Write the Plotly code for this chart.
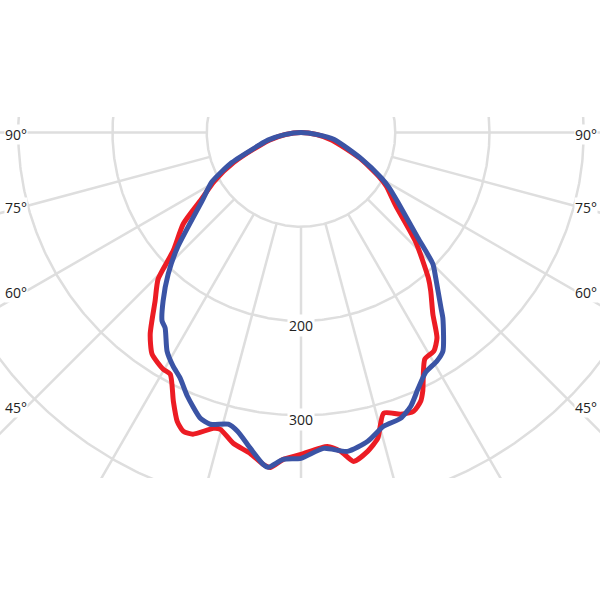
import numpy as np
import plotly.graph_objects as go

# ---- data (angle from nadir in degrees, intensity in cd) ----
red_angles = [-90, -82.6, -76.6, -73.2, -66, -60.8, -55.9, -52.2, -47.2, -44.3, -40.9, -36.8, -33.9,
              -30.2, -28.4, -25.4, -23.2, -21.5, -19.7, -16.5, -15.2, -12.3, -9.0, -6.5,
              -5.2, -3.1, 0, 4.8, 7.1, 9.1, 11.8, 14.1, 16.4, 19.5, 22.0, 24.0, 25.2,
              28.65, 31.3, 33.5, 36.0, 39.3, 41.2, 46.3, 52.3, 57.8, 60.5, 66.4, 76.2, 82.6, 90]
red_cd = [0, 16.6, 34, 44, 78, 105, 129, 158, 184.8, 217, 236.4, 267.1, 283.3,
          290.6, 291.6, 315.7, 333.4, 340.8, 340.0, 327.4, 326.4, 337.5, 344.7, 354.4,
          356.8, 347.3, 341.5, 334.2, 340.9, 353.4, 345.6, 334.5, 310.5, 317.1, 319.0, 312.2, 303.4,
          274.0, 271.4, 261.4, 238.0, 217.3, 205.1, 168.5, 127, 107, 95, 68, 34, 16.6, 0]

blue_angles = [-90, -82.6, -77, -73, -66.5, -61, -55.4, -47.0, -43.2, -39.3, -36.4, -34.8, -31.5,
               -28.7, -26.2, -23.3, -19.4, -17.3, -14.0, -12.0, -9.1, -6.5, -5.6, -3.1,
               0, 4.1, 8.3, 12.2, 15.7, 19.2, 21.85, 24.5, 27.5, 30.7, 33.0, 37.4, 38.6,
               42.8, 45.1, 48.0, 53.9, 58, 60.5, 66.4, 78, 82.6, 90]
blue_cd = [0, 17.5, 36, 47, 80, 108, 127.3, 179.5, 205.8, 231, 248.4, 252.6, 272,
           282.6, 290.4, 304.7, 321.5, 324.2, 319.0, 324.1, 339.4, 354.4, 357, 347.3,
           345.7, 336, 341.9, 335.2, 323.8, 321.2, 312.9, 299.2, 286.7, 282.2, 276.5, 247.8, 238.1,
           210.4, 197.5, 166.8, 128.3, 110, 98, 70, 36, 17.5, 0]

ring_values = [100, 200, 300, 400]
ring_labels = ["200", "300"]
ring_label_values = [200, 300]
spoke_angles = [-90, -75, -60, -45, -30, -15, 0, 15, 30, 45, 60, 75, 90]
angle_labels = ["90°", "75°", "60°", "45°"]
angle_label_values = [90, 75, 60, 45]

# ---- geometry / style ----
PX = 0.9425          # pixels per cd unit
CX, CY = 301, 132.5  # centre in page pixels
TOP, BOTTOM = 117, 478
GRID = "#dedede"
RED = "#ec1c24"
BLUE = "#3b54a5"


def to_xy(ang, r):
    a = np.radians(np.asarray(ang, dtype=float))
    r = np.asarray(r, dtype=float)
    return r * np.sin(a), -r * np.cos(a)


fig = go.Figure()

# rings
t = np.linspace(0, 2 * np.pi, 721)
for rv in ring_values:
    fig.add_trace(go.Scatter(x=rv * np.cos(t), y=rv * np.sin(t), mode="lines",
                             line=dict(color=GRID, width=2.5), hoverinfo="skip",
                             showlegend=False))
# spokes
for a in spoke_angles:
    x, y = to_xy([a, a], [ring_values[0], 700])
    fig.add_trace(go.Scatter(x=x, y=y, mode="lines", line=dict(color=GRID, width=2.5),
                             hoverinfo="skip", showlegend=False))

# curves
for ang, cd, col, name in [(red_angles, red_cd, RED, "C0-C180"),
                           (blue_angles, blue_cd, BLUE, "C90-C270")]:
    x, y = to_xy(ang, cd)
    fig.add_trace(go.Scatter(x=x, y=y, mode="lines", name=name,
                             line=dict(color=col, width=5, shape="spline", smoothing=0.6),
                             showlegend=False))

font = dict(family="Open Sans", size=14, color="#222222")
ann = []
edge = (CX - 28) / PX
for lab, a in zip(angle_labels, angle_label_values):
    ar = np.radians(a)
    yy = -edge * np.cos(ar) / np.sin(ar)
    ann.append(dict(x=-edge, y=yy, text=lab, showarrow=False, xanchor="right",
                    yanchor="middle", yshift=-2, font=font, bgcolor="white", borderpad=0))
    ann.append(dict(x=edge, y=yy, text=lab, showarrow=False, xanchor="left",
                    yanchor="middle", yshift=-2, font=font, bgcolor="white", borderpad=0))
for lab, v in zip(ring_labels, ring_label_values):
    ann.append(dict(x=0, y=-v, text=lab, showarrow=False, xanchor="center",
                    yanchor="middle", yshift=-4, font=font, bgcolor="white", borderpad=1))

fig.update_layout(
    width=600, height=600,
    margin=dict(l=0, r=0, t=TOP, b=600 - BOTTOM),
    paper_bgcolor="white", plot_bgcolor="white",
    xaxis=dict(range=[-CX / PX, (600 - CX) / PX], visible=False, fixedrange=True),
    yaxis=dict(range=[-(BOTTOM - CY) / PX, (CY - TOP) / PX], visible=False, fixedrange=True),
    annotations=ann,
)

fig.write_html("out.html", config={"displayModeBar": False},
               post_script="document.body.style.margin='0';document.body.style.overflow='hidden';")
